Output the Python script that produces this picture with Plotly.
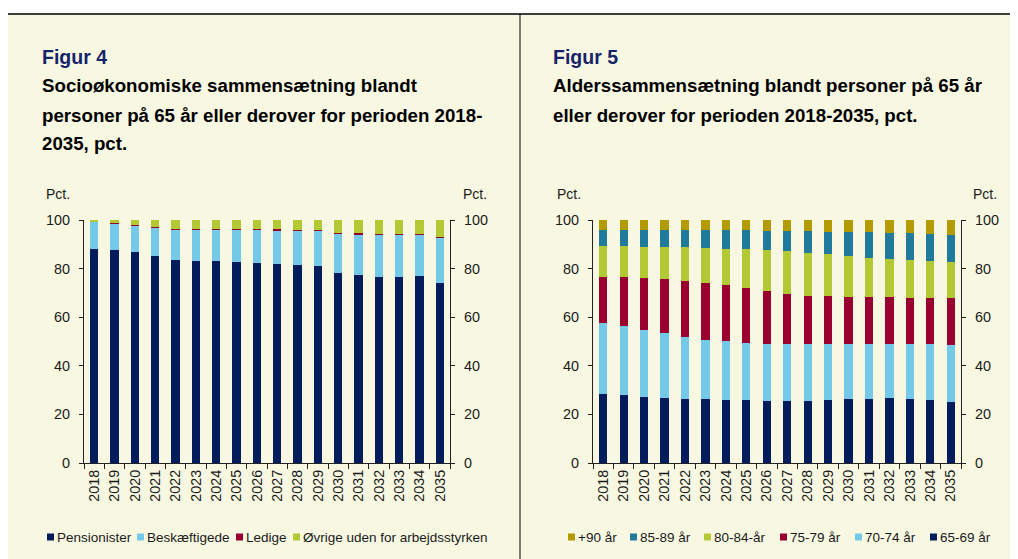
import plotly.graph_objects as go

# the page body has an 8px margin, so the figure starts 8px in
OFF = 8
W, H = 1018 - OFF, 559 - OFF

years = [str(y) for y in range(2018, 2036)]

# Figur 4 - socioøkonomisk sammensætning (pct.)
pensionister = [88.2, 87.8, 86.9, 85.2, 83.5, 83.3, 83.0, 82.6, 82.4, 82.0, 81.6, 81.1, 78.0, 77.3, 76.6, 76.6, 76.9, 74.1]
beskaeftigede = [11.2, 10.7, 10.8, 11.7, 12.6, 12.8, 13.1, 13.5, 13.7, 13.8, 14.1, 14.6, 16.3, 16.9, 17.5, 17.5, 17.2, 18.5]
ledige = [0.1, 0.1, 0.1, 0.1, 0.2, 0.2, 0.2, 0.2, 0.2, 0.3, 0.3, 0.3, 0.3, 0.3, 0.3, 0.3, 0.3, 0.3]
oevrige = [0.5, 1.4, 2.2, 3.0, 3.7, 3.7, 3.7, 3.7, 3.7, 3.9, 4.0, 4.0, 5.4, 5.5, 5.6, 5.6, 5.6, 7.1]

# Figur 5 - alderssammensætning (pct.)
a65_69 = [28.3, 27.8, 27.2, 26.8, 26.5, 26.3, 26.1, 26.0, 25.7, 25.7, 25.7, 26.1, 26.4, 26.5, 26.7, 26.4, 25.9, 25.0]
a70_74 = [29.2, 28.5, 27.7, 26.6, 25.4, 24.5, 24.0, 23.5, 23.4, 23.3, 23.1, 22.7, 22.6, 22.6, 22.4, 22.7, 22.9, 23.6]
a75_79 = [19.2, 20.3, 21.3, 22.4, 23.2, 23.3, 23.2, 22.7, 21.7, 20.6, 20.0, 19.8, 19.4, 19.3, 19.1, 19.0, 19.1, 19.1]
a80_84 = [12.5, 12.6, 12.8, 13.1, 13.7, 14.4, 14.8, 15.7, 16.7, 17.7, 17.8, 17.3, 16.7, 16.0, 15.6, 15.3, 15.3, 15.2]
a85_89 = [6.7, 6.7, 6.9, 7.0, 7.1, 7.4, 7.8, 8.0, 8.1, 8.3, 8.9, 9.3, 10.0, 10.7, 11.0, 11.1, 11.0, 10.9]
a90 = [4.1, 4.1, 4.1, 4.1, 4.1, 4.1, 4.1, 4.1, 4.4, 4.4, 4.5, 4.8, 4.9, 4.9, 5.2, 5.5, 5.8, 6.2]

NAVY = "#021c5c"
LBLUE = "#74c8e8"
RED = "#990030"
GREEN = "#b2c934"
TEAL = "#1f7a9c"
GOLD = "#b39a00"
BG = "#f8f8e2"
TXT = "#1a1a1a"
FONT = "Liberation Sans, Arial, sans-serif"


def px(x):
    return (x - OFF) / W


def py(y):
    return 1 - (y - OFF) / H


fig = go.Figure()

left = [("Pensionister", pensionister, NAVY), ("Beskæftigede", beskaeftigede, LBLUE),
        ("Ledige", ledige, RED), ("Øvrige uden for arbejdsstyrken", oevrige, GREEN)]
for name, vals, col in left:
    fig.add_trace(go.Bar(x=years, y=vals, name=name, marker_color=col, marker_line_width=0,
                         xaxis="x", yaxis="y", showlegend=False))

right = [("65-69 år", a65_69, NAVY), ("70-74 år", a70_74, LBLUE), ("75-79 år", a75_79, RED),
         ("80-84-år", a80_84, GREEN), ("85-89 år", a85_89, TEAL), ("+90 år", a90, GOLD)]
for name, vals, col in right:
    fig.add_trace(go.Bar(x=years, y=vals, name=name, marker_color=col, marker_line_width=0,
                         xaxis="x2", yaxis="y2", showlegend=False))

# dummy traces so the right-hand y axes get drawn
fig.add_trace(go.Scatter(x=[years[0]], y=[0], xaxis="x", yaxis="y3", mode="markers",
                         marker_opacity=0, showlegend=False, hoverinfo="skip"))
fig.add_trace(go.Scatter(x=[years[0]], y=[0], xaxis="x2", yaxis="y4", mode="markers",
                         marker_opacity=0, showlegend=False, hoverinfo="skip"))

ydom = [py(463), py(220)]
tickfont = dict(family=FONT, size=14.4, color=TXT)
yax = dict(range=[0, 100], tickvals=[0, 20, 40, 60, 80, 100], ticks="outside", ticklen=4,
           tickcolor="#222", showline=True, linecolor="#222", linewidth=1, showgrid=False,
           zeroline=False, tickfont=tickfont, domain=ydom, fixedrange=True, automargin=False,
           ticklabelstandoff=6)
xax = dict(type="category", tickangle=-90, ticks="outside", ticklen=5, tickson="boundaries",
           tickcolor="#222", showline=True, linecolor="#222", linewidth=1, showgrid=False,
           tickfont=tickfont, range=[-0.5, 17.5], automargin=False, fixedrange=True)

shapes = [
    dict(type="rect", xref="paper", yref="paper", x0=0, x1=1, y0=0, y1=py(14),
         fillcolor=BG, line_width=0, layer="below"),
    dict(type="line", xref="paper", yref="paper", x0=0, x1=1, y0=py(14), y1=py(14),
         line=dict(color="black", width=1.5)),
    dict(type="line", xref="paper", yref="paper", x0=px(520), x1=px(520), y0=0, y1=py(14),
         line=dict(color="black", width=1)),
]

fig.update_layout(
    width=W, height=H,
    margin=dict(l=0, r=0, t=0, b=0, autoexpand=False),
    paper_bgcolor="white", plot_bgcolor="rgba(0,0,0,0)",
    barmode="stack", bargap=0.6,
    font=dict(family=FONT, color=TXT),
    showlegend=False,
    xaxis=dict(xax, domain=[px(84), px(450)], anchor="y"),
    xaxis2=dict(xax, domain=[px(593), px(961)], anchor="y2"),
    yaxis=dict(yax, anchor="x"),
    yaxis2=dict(yax, anchor="x2"),
    yaxis3=dict(yax, anchor="x", overlaying="y", side="right"),
    yaxis4=dict(yax, anchor="x2", overlaying="y2", side="right"),
)

title_col = "#16236b"
annots = [
    (40, 57, "<b>Figur 4</b>", 19.5, title_col),
    (40, 86, "<b>Socioøkonomiske sammensætning blandt</b>", 18.7, "black"),
    (40, 115, "<b>personer på 65 år eller derover for perioden 2018-</b>", 18.7, "black"),
    (40, 143, "<b>2035, pct.</b>", 18.7, "black"),
    (551, 57, "<b>Figur 5</b>", 19.5, title_col),
    (551, 86, "<b>Alderssammensætning blandt personer på 65 år</b>", 18.7, "black"),
    (551, 115, "<b>eller derover for perioden 2018-2035, pct.</b>", 18.7, "black"),
    (44, 194, "Pct.", 14, TXT),
    (461, 194, "Pct.", 14, TXT),
    (555, 194, "Pct.", 14, TXT),
    (971, 194, "Pct.", 14, TXT),
]
for x, y, txt, size, col in annots:
    fig.add_annotation(x=px(x), y=py(y), xref="paper", yref="paper", text=txt, showarrow=False,
                       xanchor="left", yanchor="middle", font=dict(family=FONT, size=size, color=col))

# legends: small squares next to the series names
leg_left_x = [47, 137, 236, 293]
leg_right_x = [568, 630, 704, 780, 855, 930]
legend_items = [(x, n, c) for x, (n, _, c) in zip(leg_left_x, left)]
legend_items += [(x, n, c) for x, (n, _, c) in zip(leg_right_x, right[::-1])]
for x, name, col in legend_items:
    shapes.append(dict(type="rect", xref="paper", yref="paper", x0=px(x), x1=px(x + 7),
                       y0=py(540.5), y1=py(533.5), fillcolor=col, line_width=0))
    fig.add_annotation(x=px(x + 8), y=py(537), xref="paper", yref="paper", text=name,
                       showarrow=False, xanchor="left", yanchor="middle",
                       font=dict(family=FONT, size=13.5, color=TXT))

fig.update_layout(shapes=shapes)

fig.write_html("out.html")
